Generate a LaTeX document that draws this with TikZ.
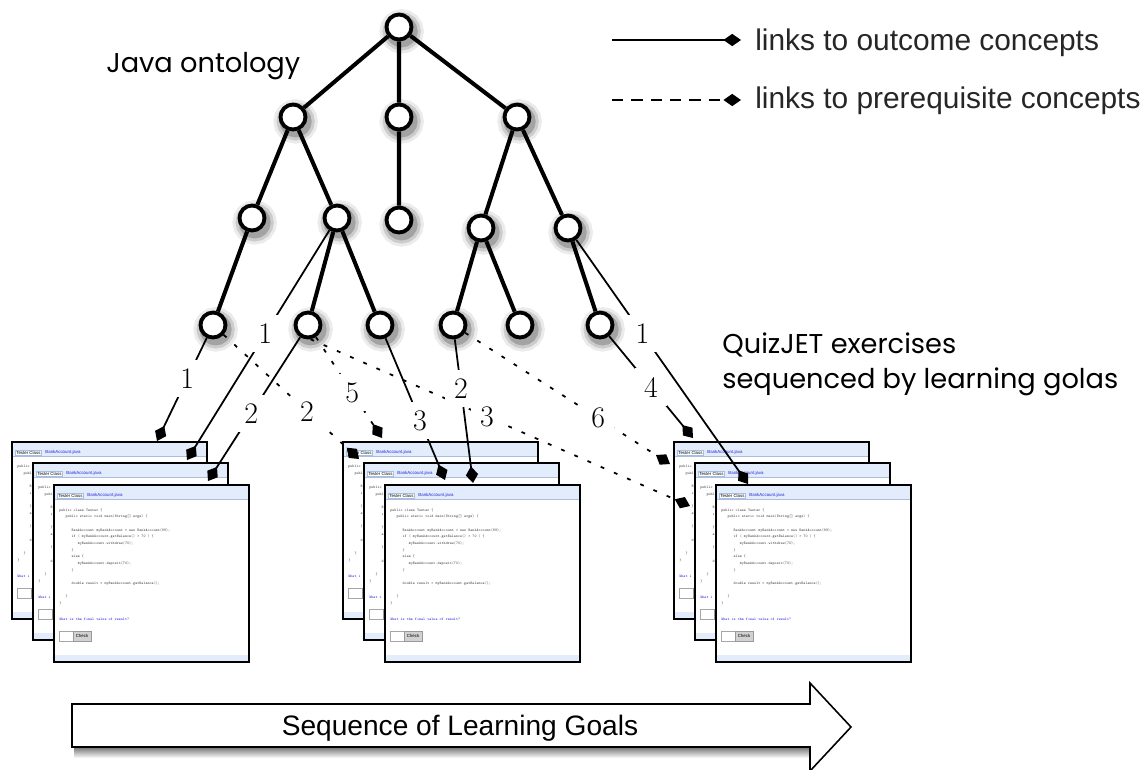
\documentclass[tikz,border=0pt]{standalone}
\usepackage{fontspec}
\newfontfamily\keyfont{Liberation Sans}
\newfontfamily\headfont{Poppins}
\usetikzlibrary{arrows.meta,calc}
\definecolor{tabblue}{RGB}{226,236,251}
\definecolor{tabedge}{RGB}{170,190,225}
\definecolor{askblue}{RGB}{35,35,215}
\tikzset{
  concept/.style={circle,draw,line width=2.2pt,fill=white,minimum size=5mm,inner sep=0pt,
    preaction={draw=black!8,fill=black!8,line width=11pt,transform canvas={shift={(1.5pt,-2.5pt)}}},
    preaction={draw=black!20,fill=black!20,line width=7.5pt,transform canvas={shift={(1.5pt,-2.5pt)}}},
    preaction={draw=black!36,fill=black!36,line width=4pt,transform canvas={shift={(1.5pt,-2.5pt)}}}},
  branch/.style={line width=2.3pt},
  outcome/.style={line width=1pt,-{Diamond[length=9.5pt,width=7pt]}},
  prereq/.style={outcome,dash pattern=on 2.2pt off 6pt},
  keyline/.style={line width=1.1pt,-{Diamond[length=10pt,width=7pt]}},
  num/.style={fill=white,inner sep=5pt,font=\fontsize{17}{17}\selectfont},
  cardbox/.style={anchor=north west,fill=white,minimum width=3.9cm,minimum height=3.54cm,inner sep=0pt,outer sep=0pt},
  cardedge/.style={line width=1.4pt},
  codelines/.style={anchor=north west,inner sep=0pt,align=left,text=black!75,font=\ttfamily\fontsize{2.2}{3.8}\selectfont},
  tablabel/.style={anchor=south west,inner sep=0.6pt,font=\keyfont\fontsize{2.5}{3}\selectfont},
  button/.style={draw=black!40,fill=black!18,line width=0.3pt,minimum width=3.6mm,minimum height=2mm,inner sep=0pt,
    font=\keyfont\fontsize{2.5}{3}\selectfont},
  heading/.style={anchor=base west,inner sep=0pt,font=\headfont\fontsize{15.5}{20}\selectfont},
  keytext/.style={anchor=base west,inner sep=0pt,text=black!85,font=\keyfont\fontsize{17}{20}\selectfont},
}

% program text shown on the front card
\newcommand\testercode{%
public class Tester \{\\
~~~public static void main(String[] args) \{\\
\mbox{}\\
~~~~~~BankAccount myBankAccount = new BankAccount(99);\\
~~~~~~if ( myBankAccount.getBalance() > 70 ) \{\\
~~~~~~~~~myBankAccount.withdraw(70);\\
~~~~~~\}\\
~~~~~~else \{\\
~~~~~~~~~myBankAccount.deposit(70);\\
~~~~~~\}\\
\mbox{}\\
~~~~~~double result = myBankAccount.getBalance();\\
\mbox{}\\
~~~\}\\
\}}
% the strip of it left showing on a card behind
\newcommand\testerpeek{%
public\\ ~~~publ\\ \mbox{}\\ ~~~~~~B\\ ~~~~~~i\\ \mbox{}\\ ~~~~~~\}\\ ~~~~~~e\\
\mbox{}\\ ~~~~~~\}\\ \mbox{}\\ ~~~~~~d\\ \mbox{}\\ ~~~\}\\ \}}

% one exercise card: #1 name, #2 top left corner, #3 program, #4 question, #5 button
\newcommand\quizcard[5]{%
  \node[cardbox] (#1) at (#2) {};
  \begin{scope}[shift={(#1.north west)}]
    \fill[tabblue] (0,0) rectangle (195,14);
    \draw[tabedge,line width=0.4pt] (0,14) -- (195,14);
    \node[tablabel,fill=white,draw=tabedge,line width=0.3pt] at (3,14) {Tester Class};
    \node[tablabel,text=askblue] at (32,14) {BankAccount.java};
    \node[codelines] at (5,23) {#3};
    \node[codelines,anchor=base west,text=askblue] at (5,135) {#4};
    \draw[black!35,line width=0.4pt,fill=white] (5,146) rectangle (19,156);
    \node[button] at (28,151) {#5};
    \fill[tabblue] (0,170) rectangle (195,177);
  \end{scope}
  \draw[cardedge] (#1.north west) rectangle (#1.south east);
}

\begin{document}
\begin{tikzpicture}[x=0.02cm,y=-0.02cm]
  \useasboundingbox (0,0) rectangle (1141,769);

  % concept tree
  \node[concept] (java) at (399,27) {};
  \node[concept] (a) at (293,117) {};
  \node[concept] (b) at (399,117) {};
  \node[concept] (c) at (517,117) {};
  \node[concept] (a1) at (252,218) {};
  \node[concept] (a2) at (337,218) {};
  \node[concept] (b1) at (399,220) {};
  \node[concept] (c1) at (481,228) {};
  \node[concept] (c2) at (568,228) {};
  \node[concept] (a11) at (213,325) {};
  \node[concept] (a21) at (308,325) {};
  \node[concept] (a22) at (380,325) {};
  \node[concept] (c11) at (453,325) {};
  \node[concept] (c12) at (520,325) {};
  \node[concept] (c21) at (600,325) {};
  \draw[branch] (java) -- (a) (java) -- (b) (java) -- (c)
    (a) -- (a1) (a) -- (a2) (b) -- (b1) (c) -- (c1) (c) -- (c2)
    (a1) -- (a11) (a2) -- (a21) (a2) -- (a22)
    (c1) -- (c11) (c1) -- (c12) (c2) -- (c21);

  % three stacks of exercise cards
  \foreach \s/\x in {1/12,2/343,3/674}{
    \quizcard{s\s a}{\x,442}{\testerpeek}{What i}{}
    \quizcard{s\s b}{\x+21,463}{\testerpeek}{What i}{}
    \quizcard{s\s c}{\x+42,485}{\testercode}{What is the final value of result?}{Check}
  }

  % where the links meet the cards
  \coordinate (s1a-top) at ($(s1a.north west)+(145,-1)$);
  \coordinate (s1b-top) at ($(s1b.north west)+(154,-3)$);
  \coordinate (s1c-top) at ($(s1c.north west)+(154,-4)$);
  \coordinate (s2a-top) at ($(s2a.north west)+(39,-4)$);
  \coordinate (s2b-corner) at ($(s2b.north west)+(-5,-4)$);
  \coordinate (s2c-top1) at ($(s2c.north west)+(60,-5)$);
  \coordinate (s2c-top2) at ($(s2c.north west)+(88,-2)$);
  \coordinate (s3a-top) at ($(s3a.north west)+(19,-4)$);
  \coordinate (s3a-side) at ($(s3a.north west)+(-4,22)$);
  \coordinate (s3b-side) at ($(s3b.north west)+(-5,43)$);
  \coordinate (s3c-top) at ($(s3c.north west)+(32,-1)$);

  % concept links
  \path (a11) edge[outcome] node[num,pos=.39]{1} (s1a-top)
        (a2) edge[outcome] node[num,pos=.45]{1} (s1b-top)
        (a21) edge[outcome] node[num,pos=.53]{2} (s1c-top)
        (a11) edge[prereq] node[num,pos=.615]{2} (s2b-corner)
        (a21) edge[prereq] node[num,pos=.55]{5} (s2a-top)
        (a21.-80) edge[prereq] node[num,pos=.465]{3} (s3b-side)
        (a22) edge[outcome] node[num,pos=.58]{3} (s2c-top1)
        (c11) edge[outcome] node[num,pos=.34]{2} (s2c-top2)
        (c11) edge[prereq] node[num,pos=.65]{6} (s3a-side)
        (c21) edge[outcome] node[num,pos=.5]{4} (s3a-top)
        (c2) edge[outcome] node[num,pos=.385]{1} (s3c-top);

  % legend
  \coordinate (out0) at (612,40);
  \coordinate (out1) at (741,40);
  \draw[keyline] (out0) -- (out1);
  \node[keytext] (outkey) at (755,50) {links to outcome concepts};
  \coordinate (pre0) at (612,100);
  \coordinate (pre1) at (741,100);
  \draw[keyline,dash pattern=on 6.5pt off 4.5pt] (pre0) -- (pre1);
  \node[keytext] (prekey) at (755,108) {links to prerequisite concepts};

  % titles
  \node[heading] (onto) at (106,72) {Java ontology};
  \node[heading] (quiz) at (722,353) {QuizJET exercises};
  \node[heading] (quizsub) at (722,388) {sequenced by learning golas};

  % sequence arrow
  \shade[top color=black!55,bottom color=white] (74,747) rectangle (810,758);
  \draw[line width=0.9pt,fill=white]
    (72,704) -- (810,704) -- (810,683) -- (851,727) -- (810,771) -- (810,747) -- (72,747) -- cycle;
  \node[keytext,anchor=base,text=black,font=\keyfont\fontsize{16}{18}\selectfont] (goals) at (460,735)
    {Sequence of Learning Goals};
\end{tikzpicture}
\end{document}
